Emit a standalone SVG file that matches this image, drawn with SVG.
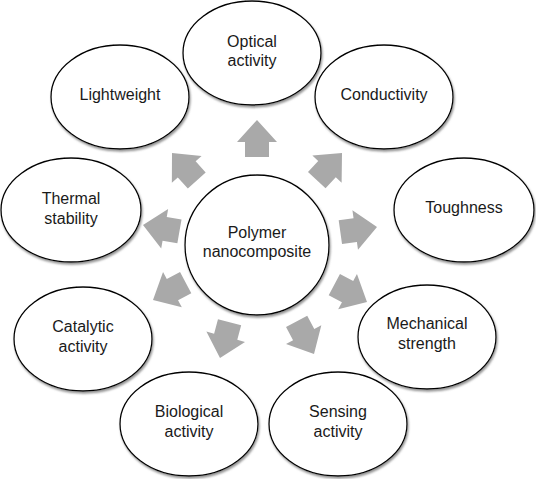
<svg xmlns="http://www.w3.org/2000/svg" width="536" height="479" viewBox="0 0 536 479">
<defs>
<filter id="sh" x="-10%" y="-10%" width="120%" height="125%">
<feDropShadow dx="1" dy="2" stdDeviation="0.8" flood-color="#777" flood-opacity="0.8"/>
</filter>
<polygon id="arr" points="0,0 -22,-20 -22,-12 -37,-12 -37,12 -22,12 -22,20"/>
</defs>
<style>
.n{fill:#fff;stroke:#000;stroke-width:1.3;filter:url(#sh)}
.t{font-family:"Liberation Sans",Arial,sans-serif;font-size:16px;fill:#1a1a1a;text-anchor:middle}
.a{fill:#a9a9a9}
</style>
<rect width="536" height="479" fill="#fff"/>
<g id="connectors" class="a">
<use href="#arr" transform="translate(257,120) rotate(-90)"/>
<use href="#arr" transform="translate(342,153) rotate(-47)"/>
<use href="#arr" transform="translate(377,227) rotate(-8)"/>
<use href="#arr" transform="translate(367,302) rotate(28)"/>
<use href="#arr" transform="translate(314,354) rotate(62)"/>
<use href="#arr" transform="translate(220,358) rotate(105)"/>
<use href="#arr" transform="translate(153,300) rotate(152)"/>
<use href="#arr" transform="translate(143,225) rotate(190)"/>
<use href="#arr" transform="translate(172,153) rotate(228)"/>
</g>
<g id="center">
<ellipse class="n" cx="257" cy="245" rx="72" ry="70"/>
<text class="t" x="257" y="238">Polymer</text>
<text class="t" x="257" y="257">nanocomposite</text>
</g>
<g id="optical">
<ellipse class="n" cx="252" cy="53" rx="69" ry="52"/>
<text class="t" x="252" y="47">Optical</text>
<text class="t" x="252" y="66">activity</text>
</g>
<g id="lightweight">
<ellipse class="n" cx="120" cy="97" rx="69" ry="52"/>
<text class="t" x="120" y="100">Lightweight</text>
</g>
<g id="conductivity">
<ellipse class="n" cx="384" cy="97" rx="69" ry="52"/>
<text class="t" x="384" y="100">Conductivity</text>
</g>
<g id="thermal">
<ellipse class="n" cx="71" cy="210" rx="70" ry="52"/>
<text class="t" x="71" y="204">Thermal</text>
<text class="t" x="71" y="224">stability</text>
</g>
<g id="toughness">
<ellipse class="n" cx="464" cy="210" rx="70" ry="52"/>
<text class="t" x="464" y="213">Toughness</text>
</g>
<g id="catalytic">
<ellipse class="n" cx="83" cy="339" rx="69" ry="52"/>
<text class="t" x="83" y="332">Catalytic</text>
<text class="t" x="83" y="352">activity</text>
</g>
<g id="mechanical">
<ellipse class="n" cx="427" cy="337" rx="69" ry="52"/>
<text class="t" x="427" y="329">Mechanical</text>
<text class="t" x="427" y="349">strength</text>
</g>
<g id="biological">
<ellipse class="n" cx="189" cy="424" rx="69" ry="52"/>
<text class="t" x="189" y="417">Biological</text>
<text class="t" x="189" y="437">activity</text>
</g>
<g id="sensing">
<ellipse class="n" cx="338" cy="424" rx="69" ry="52"/>
<text class="t" x="338" y="417">Sensing</text>
<text class="t" x="338" y="437">activity</text>
</g>
</svg>
